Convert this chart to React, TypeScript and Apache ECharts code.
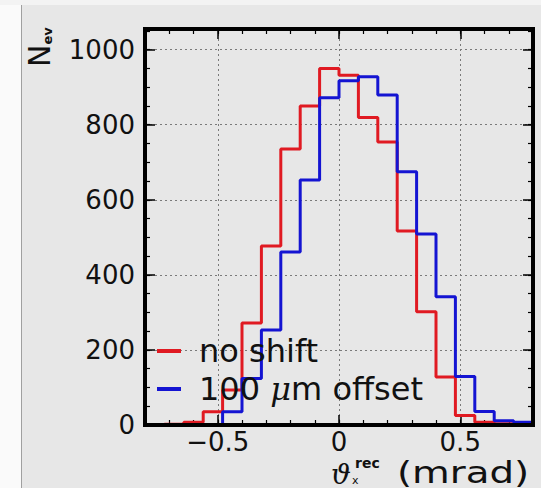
import React, { useEffect, useRef } from "react";
import * as echarts from "echarts";

// Histogram bin edges (mrad)
const binEdges = [
  -0.8, -0.72, -0.64, -0.56, -0.48, -0.4, -0.32, -0.24, -0.16, -0.08, 0,
  0.08, 0.16, 0.24, 0.32, 0.4, 0.48, 0.56, 0.64, 0.72, 0.8,
];
// Bin contents
const noShift = [0, 2, 7, 35, 93, 272, 477, 735, 850, 950, 932, 819, 754, 517, 302, 128, 25, 7, 3, 0];
const offset100 = [0, 0, 0, 0, 35, 124, 253, 461, 653, 872, 917, 928, 879, 675, 509, 342, 129, 36, 11, 7];

const seriesNames = ["no shift", "100 μm offset"];
const xTickLabels = [-0.5, 0, 0.5];
const yTickLabels = [0, 200, 400, 600, 800, 1000];

const X_MIN = -0.8;
const X_MAX = 0.8;
const Y_MIN = 0;
const Y_MAX = 1055;

const toSteps = (vals: number[]) => [
  ...vals.map((v, i) => [binEdges[i], v]),
  [binEdges[binEdges.length - 1], vals[vals.length - 1]],
];

const tickFont = "DejaVu Sans";

export default function App() {
  const ref = useRef<HTMLDivElement>(null);

  useEffect(() => {
    if (!ref.current) return;
    const chart = echarts.init(ref.current, undefined, { renderer: "svg" });

    const hiddenLine = { show: false, onZero: false };
    const baseX = {
      type: "value",
      min: X_MIN,
      max: X_MAX,
      axisLine: hiddenLine,
      splitLine: { show: false },
      axisLabel: { show: false },
    };
    const baseY = {
      type: "value",
      min: Y_MIN,
      max: Y_MAX,
      axisLine: hiddenLine,
      splitLine: { show: false },
      axisLabel: { show: false },
    };
    const majorTick = { show: true, inside: true, length: 10, lineStyle: { color: "#000", width: 1.5 } };
    const minorTickStyle = { show: true, inside: true, length: 5, lineStyle: { color: "#000", width: 1.2 } };
    const gridLine = { show: true, lineStyle: { color: "#7a7a7a", type: [2, 3], width: 1 } };

    const staticGraphics: any[] = [
      { type: "rect", shape: { x: 0, y: 0, width: 21, height: 488 }, style: { fill: "#fafafa" }, z: -10 },
      { type: "rect", shape: { x: 0, y: 0, width: 541, height: 5 }, style: { fill: "#f3f3f3" }, z: -10 },
      { type: "line", shape: { x1: 21.5, y1: 5, x2: 21.5, y2: 488 }, style: { stroke: "#a0a0a0", lineWidth: 1 }, z: -9 },
      // y-axis title N_ev (rotated)
      {
        type: "text",
        x: 39,
        y: 67,
        rotation: Math.PI / 2,
        style: {
          text: "{n|N}{s|ev}",
          align: "left",
          verticalAlign: "middle",
          rich: {
            n: { fontFamily: tickFont, fontSize: 30, fill: "#111", verticalAlign: "bottom" },
            s: { fontFamily: tickFont, fontSize: 13, fontWeight: "bold", fill: "#111", verticalAlign: "bottom" },
          },
        },
      },
      // x-axis title: theta_x^rec (mrad)
      {
        type: "text",
        x: 331,
        y: 460,
        style: { text: "ϑ", fontFamily: "DejaVu Serif", fontStyle: "italic", fontSize: 28, fill: "#111" },
      },
      {
        type: "text",
        x: 355,
        y: 456,
        style: { text: "rec", fontFamily: tickFont, fontWeight: "bold", fontSize: 14, fill: "#111" },
      },
      {
        type: "text",
        x: 352,
        y: 475,
        style: { text: "x", fontFamily: tickFont, fontSize: 11, fill: "#111" },
      },
      {
        type: "text",
        x: 397,
        y: 456,
        scaleX: 1.25,
        style: { text: "(mrad)", fontFamily: tickFont, fontSize: 31, fill: "#111" },
      },
    ];

    const option: any = {
      animation: false,
      backgroundColor: "#e7e7e7",
      grid: {
        left: 145,
        right: 8,
        top: 29,
        bottom: 63,
        show: false,
      },
      legend: {
        orient: "vertical",
        left: 152,
        top: 330,
        icon: "rect",
        itemWidth: 24,
        itemHeight: 4,
        itemGap: 6,
        selectedMode: false,
        data: seriesNames,
        formatter: (name: string) => (name === seriesNames[1] ? "100 {i|μ}m offset" : name),
        textStyle: {
          fontFamily: tickFont,
          fontSize: 32,
          color: "#111",
          padding: [0, 0, 0, 13],
          rich: {
            i: { fontFamily: "DejaVu Serif", fontStyle: "italic", fontSize: 32, color: "#111" },
          },
        },
      },
      xAxis: [
        {
          ...baseX,
          position: "bottom",
          splitNumber: 3,
          axisTick: majorTick,
          splitLine: gridLine,
          axisLabel: {
            show: true,
            showMinLabel: false,
            showMaxLabel: false,
            margin: 4,
            fontFamily: tickFont,
            fontSize: 26,
            color: "#111",
            formatter: (v: number) => {
              const r = Math.round(v * 10) / 10;
              if (!xTickLabels.includes(r)) return "";
              return r < 0 ? "\u2212" + Math.abs(r) : String(r);
            },
          },
        },
        { ...baseX, position: "bottom", interval: 0.1, axisTick: minorTickStyle },
        { ...baseX, position: "top", splitNumber: 3, axisTick: majorTick },
        { ...baseX, position: "top", interval: 0.1, axisTick: minorTickStyle },
      ],
      yAxis: [
        {
          ...baseY,
          position: "left",
          interval: 200,
          axisTick: majorTick,
          splitLine: gridLine,
          axisLabel: {
            show: true,
            margin: 10,
            fontFamily: tickFont,
            fontSize: 26,
            color: "#111",
            formatter: (v: number) => (yTickLabels.includes(v) ? String(v) : ""),
          },
        },
        { ...baseY, position: "left", interval: 50, axisTick: minorTickStyle },
        { ...baseY, position: "right", interval: 200, axisTick: majorTick },
        { ...baseY, position: "right", interval: 50, axisTick: minorTickStyle },
      ],
      series: [
        {
          name: seriesNames[0],
          type: "line",
          step: "end",
          xAxisIndex: 0,
          yAxisIndex: 0,
          showSymbol: false,
          color: "#e01a22",
          lineStyle: { width: 3, color: "#e01a22" },
          data: toSteps(noShift),
        },
        {
          name: seriesNames[1],
          type: "line",
          step: "end",
          xAxisIndex: 0,
          yAxisIndex: 0,
          showSymbol: false,
          color: "#1414d2",
          lineStyle: { width: 3, color: "#1414d2" },
          data: toSteps(offset100),
        },
      ],
      graphic: staticGraphics,
    };

    chart.setOption(option);

    // Thick black frame around the plotting area, placed via the axes' own scales
    const tl = chart.convertToPixel({ gridIndex: 0 }, [X_MIN, Y_MAX]) as number[];
    const br = chart.convertToPixel({ gridIndex: 0 }, [X_MAX, Y_MIN]) as number[];
    if (tl && br) {
      chart.setOption({
        graphic: [
          ...staticGraphics,
          {
            type: "rect",
            z: 50,
            silent: true,
            shape: { x: tl[0], y: tl[1], width: br[0] - tl[0], height: br[1] - tl[1] },
            style: { fill: "none", stroke: "#000", lineWidth: 4 },
          },
        ],
      });
    }
    return () => chart.dispose();
  }, []);

  return (
    <div
      ref={ref}
      style={{ position: "absolute", left: 0, top: 0, width: 541, height: 488 }}
    />
  );
}
